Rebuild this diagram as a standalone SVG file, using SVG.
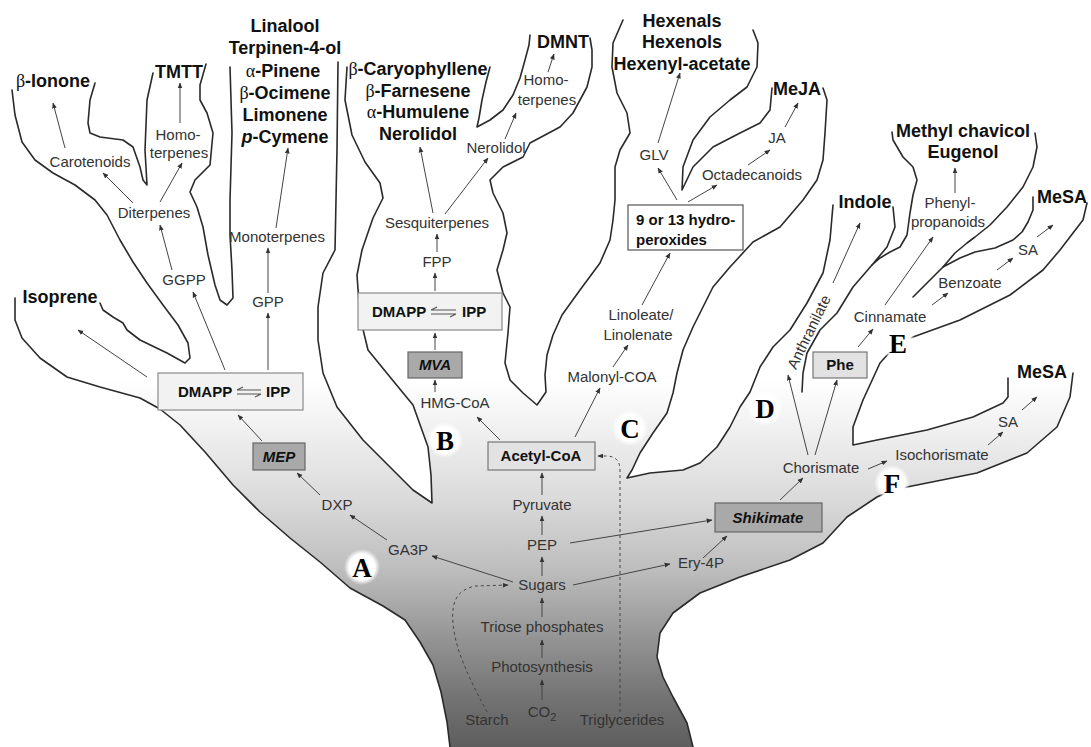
<svg xmlns="http://www.w3.org/2000/svg" width="1091" height="747" viewBox="0 0 1091 747">
<defs>
<linearGradient id="trunk" gradientUnits="userSpaceOnUse" x1="0" y1="380" x2="0" y2="747">
<stop offset="0" stop-color="#ffffff"/>
<stop offset="0.136" stop-color="#f0f0f0"/>
<stop offset="0.327" stop-color="#dadada"/>
<stop offset="0.518" stop-color="#bdbdbd"/>
<stop offset="0.708" stop-color="#939393"/>
<stop offset="0.872" stop-color="#727272"/>
<stop offset="1" stop-color="#5e5e5e"/>
</linearGradient>
<radialGradient id="halo">
<stop offset="0" stop-color="#fff"/>
<stop offset="0.72" stop-color="#fff"/>
<stop offset="1" stop-color="#fff" stop-opacity="0"/>
</radialGradient>
<marker id="ah" viewBox="0 0 10 10" refX="9" refY="5" markerWidth="6" markerHeight="6" markerUnits="userSpaceOnUse" orient="auto">
<path d="M0,1 L10,5 L0,9 z" fill="#333"/>
</marker>
<style>
.b{font:bold 18px "Liberation Sans",Arial,sans-serif;fill:#111;text-anchor:middle}
.s{font:15px "Liberation Sans",Arial,sans-serif;fill:#333;text-anchor:middle}
.bx{font:bold 15px "Liberation Sans",Arial,sans-serif;fill:#111}
.bi{font:italic bold 15px "Liberation Sans",Arial,sans-serif;fill:#111;text-anchor:middle}
.g{font-family:"Liberation Serif",serif;font-weight:normal}
.ol{fill:none;stroke:#2a2a2a;stroke-width:1.6;stroke-linejoin:round;stroke-linecap:round}
.ar{fill:none;stroke:#444;stroke-width:1;marker-end:url(#ah)}
.da{fill:none;stroke:#444;stroke-width:1;stroke-dasharray:3 3;marker-end:url(#ah)}
.lt{font:bold 27px "Liberation Serif","Times New Roman",serif;fill:#000;text-anchor:middle}
.lbox{fill:#f2f2f2;stroke:#8a8a8a;stroke-width:1.2}
.dbox{fill:#a9a9a9;stroke:#666;stroke-width:1.2}
.mbox{fill:#e2e2e2;stroke:#777;stroke-width:1.2}
.wbox{fill:#fff;stroke:#555;stroke-width:1.2}
.hp{fill:none;stroke:#555;stroke-width:1.2}
</style>
</defs>
<rect width="1091" height="747" fill="#fff"/>

<g id="tree">
<path fill="url(#trunk)" d="M450,747 L447,722 441,692 433,665 420,642 405,620 383,606 350,588 320,562 290,538 260,512 233,485 205,452 180,425 160,409 140,398 100,387 67,377 40,358 22,338 15,320 15,298 L100,303 103,310 113,317 123,323 127,330 140,340 167,353 185,363 190,358 188,343 178,325 163,305 147,283 133,262 120,240 107,215 95,200 75,185 53,173 35,160 22,142 15,115 12,90 L95,83 90,100 88,123 90,133 100,137 123,140 133,147 140,167 143,180 147,185 145,150 147,100 153,73 L206,64 200,85 200,100 207,113 213,133 210,165 195,180 190,192 197,207 203,227 208,255 215,285 220,300 227,305 233,298 232,270 230,235 230,200 232,133 230,67 L338,62 337,150 335,250 323,273 318,307 318,340 323,373 337,407 363,440 390,467 413,490 432,503 431,475 428,447 413,405 390,377 368,350 360,317 357,275 362,250 373,218 383,198 380,183 365,162 352,135 345,100 347,67 L490,67 486,82 482,100 479,118 477,127 490,120 503,110 513,95 520,78 525,60 529,45 530,35 L590,38 592,50 592,67 587,87 580,100 573,113 560,127 545,135 530,143 523,157 503,167 490,180 493,193 503,213 507,233 503,250 497,270 503,293 510,307 508,333 505,363 510,380 523,393 537,405 546,392 545,375 547,355 553,335 562,315 580,290 600,263 610,240 613,220 615,200 615,167 620,150 630,133 627,113 617,93 612,67 613,43 623,20 L753,30 758,43 757,67 747,87 730,100 710,117 693,140 683,167 682,190 693,167 713,147 740,133 760,123 770,110 772,88 L823,88 827,100 825,133 823,160 817,180 803,200 780,227 753,242 730,267 713,287 703,307 693,327 683,350 677,373 673,393 667,413 653,433 640,453 632,470 627,478 650,473 683,470 700,463 717,447 730,427 740,407 750,392 760,367 773,347 790,330 807,303 823,273 830,240 833,205 L893,207 895,227 887,247 872,265 880,258 890,252 900,247 907,235 910,213 913,195 917,180 913,167 903,157 893,140 892,132 L1035,133 1037,147 1033,167 1023,187 1007,207 990,225 975,237 967,243 955,253 943,267 960,258 975,252 995,248 1013,240 1022,232 1028,222 1033,210 1033,197 L1087,203 1083,220 1073,233 1060,250 1043,270 1010,295 960,320 913,337 898,345 890,352 880,363 863,400 853,427 853,445 877,440 927,430 973,417 1003,403 1008,397 1008,378 L1073,373 1070,397 1057,427 1027,453 977,473 907,487 892,490 877,497 847,517 823,543 790,560 740,577 700,593 673,613 660,633 657,657 663,677 673,697 687,723 693,747 Z"/>
<path class="ol" d="M450,747 L447,722 441,692 433,665 420,642 405,620 383,606 350,588 320,562 290,538 260,512 233,485 205,452 180,425 160,409 140,398 100,387 67,377 40,358 22,338 15,320 15,298"/>
<path class="ol" d="M100,303 L103,310 113,317 123,323 127,330 140,340 167,353 185,363 190,358 188,343 178,325 163,305 147,283 133,262 120,240 107,215 95,200 75,185 53,173 35,160 22,142 15,115 12,90"/>
<path class="ol" d="M95,83 L90,100 88,123 90,133 100,137 123,140 133,147 140,167 143,180 147,185 145,150 147,100 153,73"/>
<path class="ol" d="M206,64 L200,85 200,100 207,113 213,133 210,165 195,180 190,192 197,207 203,227 208,255 215,285 220,300 227,305 233,298 232,270 230,235 230,200 232,133 230,67"/>
<path class="ol" d="M338,62 L337,150 335,250 323,273 318,307 318,340 323,373 337,407 363,440 390,467 413,490 432,503 431,475 428,447 413,405 390,377 368,350 360,317 357,275 362,250 373,218 383,198 380,183 365,162 352,135 345,100 347,67"/>
<path class="ol" d="M490,67 L486,82 482,100 479,118 477,127 490,120 503,110 513,95 520,78 525,60 529,45 530,35"/>
<path class="ol" d="M590,38 L592,50 592,67 587,87 580,100 573,113 560,127 545,135 530,143 523,157 503,167 490,180 493,193 503,213 507,233 503,250 497,270 503,293 510,307 508,333 505,363 510,380 523,393 537,405 546,392 545,375 547,355 553,335 562,315 580,290 600,263 610,240 613,220 615,200 615,167 620,150 630,133 627,113 617,93 612,67 613,43 623,20"/>
<path class="ol" d="M753,30 L758,43 757,67 747,87 730,100 710,117 693,140 683,167 682,190 693,167 713,147 740,133 760,123 770,110 772,88"/>
<path class="ol" d="M823,88 L827,100 825,133 823,160 817,180 803,200 780,227 753,242 730,267 713,287 703,307 693,327 683,350 677,373 673,393 667,413 653,433 640,453 632,470 627,478 650,473 683,470 700,463 717,447 730,427 740,407 750,392 760,367 773,347 790,330 807,303 823,273 830,240 833,205"/>
<path class="ol" d="M893,207 L895,227 887,247 872,265 880,258 890,252 900,247 907,235 910,213 913,195 917,180 913,167 903,157 893,140 892,132"/>
<path class="ol" d="M872,265 L853,287 837,313 820,330 807,353 803,373 802,392"/>
<path class="ol" d="M1035,133 L1037,147 1033,167 1023,187 1007,207 990,225 975,237 967,243 955,253 943,267 960,258 975,252 995,248 1013,240 1022,232 1028,222 1033,210 1033,197"/>
<path class="ol" d="M943,267 L928,282 913,297"/>
<path class="ol" d="M1087,203 L1083,220 1073,233 1060,250 1043,270 1010,295 960,320 913,337 898,345 890,352 880,363 863,400 853,427 853,445 877,440 927,430 973,417 1003,403 1008,397 1008,378"/>
<path class="ol" d="M1073,373 L1070,397 1057,427 1027,453 977,473 907,487 892,490 877,497 847,517 823,543 790,560 740,577 700,593 673,613 660,633 657,657 663,677 673,697 687,723 693,747"/>
</g>

<g id="connectors">
<line class="ar" x1="65" y1="148" x2="53" y2="103"/>
<line class="ar" x1="180" y1="123" x2="180" y2="83"/>
<line class="ar" x1="133" y1="203" x2="103" y2="173"/>
<line class="ar" x1="160" y1="202" x2="182" y2="163"/>
<line class="ar" x1="172" y1="270" x2="160" y2="225"/>
<line class="ar" x1="225" y1="370" x2="193" y2="292"/>
<line class="ar" x1="147" y1="377" x2="78" y2="330"/>
<line class="ar" x1="268" y1="370" x2="268" y2="313"/>
<line class="ar" x1="268" y1="293" x2="268" y2="248"/>
<line class="ar" x1="276" y1="228" x2="288" y2="148"/>
<line class="ar" x1="262" y1="441" x2="238" y2="415"/>
<line class="ar" x1="320" y1="495" x2="297" y2="473"/>
<line class="ar" x1="387" y1="540" x2="350" y2="515"/>
<line class="ar" x1="513" y1="582" x2="432" y2="556"/>
<line class="ar" x1="573" y1="585" x2="670" y2="564"/>
<line class="ar" x1="570" y1="543" x2="712" y2="520"/>
<line class="ar" x1="703" y1="558" x2="727" y2="536"/>
<line class="ar" x1="780" y1="500" x2="803" y2="478"/>
<line class="ar" x1="868" y1="469" x2="887" y2="461"/>
<line class="ar" x1="988" y1="445" x2="1003" y2="432"/>
<line class="ar" x1="1022" y1="410" x2="1037" y2="397"/>
<line class="ar" x1="815" y1="455" x2="837" y2="380"/>
<line class="ar" x1="808" y1="455" x2="788" y2="375"/>
<line class="ar" x1="833" y1="283" x2="860" y2="223"/>
<line class="ar" x1="858" y1="347" x2="873" y2="329"/>
<line class="ar" x1="885" y1="305" x2="933" y2="237"/>
<line class="ar" x1="955" y1="193" x2="955" y2="168"/>
<line class="ar" x1="932" y1="305" x2="948" y2="293"/>
<line class="ar" x1="997" y1="270" x2="1013" y2="258"/>
<line class="ar" x1="1037" y1="237" x2="1053" y2="225"/>
<line class="ar" x1="542" y1="700" x2="542" y2="680"/>
<line class="ar" x1="542" y1="658" x2="542" y2="640"/>
<line class="ar" x1="542" y1="617" x2="542" y2="598"/>
<line class="ar" x1="542" y1="576" x2="542" y2="557"/>
<line class="ar" x1="542" y1="535" x2="542" y2="516"/>
<line class="ar" x1="542" y1="495" x2="542" y2="473"/>
<line class="ar" x1="500" y1="440" x2="477" y2="417"/>
<line class="ar" x1="435" y1="392" x2="435" y2="380"/>
<line class="ar" x1="435" y1="350" x2="435" y2="333"/>
<line class="ar" x1="435" y1="291" x2="435" y2="273"/>
<line class="ar" x1="437" y1="252" x2="437" y2="234"/>
<line class="ar" x1="433" y1="213" x2="420" y2="147"/>
<line class="ar" x1="445" y1="214" x2="488" y2="158"/>
<line class="ar" x1="505" y1="139" x2="516" y2="113"/>
<line class="ar" x1="548" y1="72" x2="554" y2="54"/>
<line class="ar" x1="575" y1="437" x2="600" y2="388"/>
<line class="ar" x1="613" y1="367" x2="628" y2="345"/>
<line class="ar" x1="642" y1="305" x2="670" y2="253"/>
<line class="ar" x1="677" y1="200" x2="658" y2="168"/>
<line class="ar" x1="658" y1="143" x2="680" y2="73"/>
<line class="ar" x1="688" y1="202" x2="717" y2="185"/>
<line class="ar" x1="748" y1="165" x2="770" y2="150"/>
<line class="ar" x1="785" y1="127" x2="798" y2="103"/>
<path class="da" d="M487,712 C470,680 455,650 453,623 C451,600 458,590 475,586 L508,585"/>
<path class="da" d="M620,712 L620,470 Q620,456 606,456 L598,456"/>
</g>

<g id="node-isoprene"><text class="b" x="60" y="303">Isoprene</text></g>
<g id="node-ionone"><text class="b" x="53" y="87"><tspan class="g">β</tspan>-Ionone</text></g>
<g id="node-tmtt"><text class="b" x="179" y="78">TMTT</text></g>
<g id="node-carotenoids"><text class="s" x="90" y="167">Carotenoids</text></g>
<g id="node-homoterpenes1"><text class="s" x="178" y="140">Homo-</text><text class="s" x="179" y="158">terpenes</text></g>
<g id="node-diterpenes"><text class="s" x="154" y="218">Diterpenes</text></g>
<g id="node-ggpp"><text class="s" x="184" y="285">GGPP</text></g>
<g id="node-monoterpene-products">
<text class="b" x="285" y="32">Linalool</text>
<text class="b" x="285" y="54">Terpinen-4-ol</text>
<text class="b" x="283" y="77"><tspan class="g">α</tspan>-Pinene</text>
<text class="b" x="285" y="99"><tspan class="g">β</tspan>-Ocimene</text>
<text class="b" x="285" y="121">Limonene</text>
<text class="b" x="285" y="143"><tspan font-style="italic">p</tspan>-Cymene</text>
</g>
<g id="node-monoterpenes"><text class="s" x="277" y="242">Monoterpenes</text></g>
<g id="node-gpp"><text class="s" x="268" y="307">GPP</text></g>
<g id="node-dmapp-left">
<rect class="lbox" x="158" y="373" width="145" height="37"/>
<text class="bx" x="178" y="397">DMAPP</text>
<path class="hp" d="M237,390 L261,390 M237,390 l6,-3 M237,394 L261,394 M261,394 l-6,3"/>
<text class="bx" x="266" y="397">IPP</text>
</g>
<g id="node-mep"><rect class="dbox" x="253" y="443" width="52" height="27"/><text class="bi" x="279" y="462">MEP</text></g>
<g id="node-dxp"><text class="s" x="337" y="510">DXP</text></g>
<g id="node-ga3p"><text class="s" x="408" y="555">GA3P</text></g>
<g id="node-sesqui-products">
<text class="b" x="418" y="75"><tspan class="g">β</tspan>-Caryophyllene</text>
<text class="b" x="418" y="97"><tspan class="g">β</tspan>-Farnesene</text>
<text class="b" x="418" y="118"><tspan class="g">α</tspan>-Humulene</text>
<text class="b" x="418" y="140">Nerolidol</text>
</g>
<g id="node-dmnt"><text class="b" x="563" y="48">DMNT</text></g>
<g id="node-homoterpenes2"><text class="s" x="546" y="85">Homo-</text><text class="s" x="547" y="105">terpenes</text></g>
<g id="node-nerolidol"><text class="s" x="496" y="153">Nerolidol</text></g>
<g id="node-sesquiterpenes"><text class="s" x="437" y="228">Sesquiterpenes</text></g>
<g id="node-fpp"><text class="s" x="437" y="267">FPP</text></g>
<g id="node-dmapp-right">
<rect class="lbox" x="358" y="293" width="144" height="37"/>
<text class="bx" x="372" y="317">DMAPP</text>
<path class="hp" d="M431,310 L456,310 M431,310 l6,-3 M431,314 L456,314 M456,314 l-6,3"/>
<text class="bx" x="462" y="317">IPP</text>
</g>
<g id="node-mva"><rect class="dbox" x="408" y="352" width="54" height="26"/><text class="bi" x="435" y="370">MVA</text></g>
<g id="node-hmgcoa"><text class="s" x="455" y="408">HMG-CoA</text></g>
<g id="node-acetylcoa"><rect class="mbox" x="488" y="442" width="107" height="28"/><text class="bx" x="541" y="461" text-anchor="middle">Acetyl-CoA</text></g>
<g id="node-pyruvate"><text class="s" x="542" y="510">Pyruvate</text></g>
<g id="node-pep"><text class="s" x="542" y="550">PEP</text></g>
<g id="node-sugars"><text class="s" x="542" y="590">Sugars</text></g>
<g id="node-triose"><text class="s" x="542" y="632">Triose phosphates</text></g>
<g id="node-photosynthesis"><text class="s" x="542" y="672">Photosynthesis</text></g>
<g id="node-co2"><text class="s" x="542" y="717">CO<tspan font-size="11" dy="4">2</tspan></text></g>
<g id="node-starch"><text class="s" x="487" y="725">Starch</text></g>
<g id="node-triglycerides"><text class="s" x="622" y="725">Triglycerides</text></g>
<g id="node-ery4p"><text class="s" x="701" y="568">Ery-4P</text></g>
<g id="node-shikimate"><rect class="dbox" x="715" y="503" width="107" height="29"/><text class="bi" x="768" y="523">Shikimate</text></g>
<g id="node-glv-products">
<text class="b" x="682" y="27">Hexenals</text>
<text class="b" x="682" y="48">Hexenols</text>
<text class="b" x="682" y="70">Hexenyl-acetate</text>
</g>
<g id="node-glv"><text class="s" x="654" y="160">GLV</text></g>
<g id="node-meja"><text class="b" x="797" y="95">MeJA</text></g>
<g id="node-ja"><text class="s" x="777" y="143">JA</text></g>
<g id="node-octadecanoids"><text class="s" x="752" y="180">Octadecanoids</text></g>
<g id="node-hydroperoxides">
<rect class="wbox" x="628" y="205" width="115" height="45"/>
<text class="bx" x="636" y="225">9 or 13 hydro-</text>
<text class="bx" x="636" y="245">peroxides</text>
</g>
<g id="node-linoleate"><text class="s" x="641" y="320">Linoleate/</text><text class="s" x="638" y="340">Linolenate</text></g>
<g id="node-malonyl"><text class="s" x="612" y="382">Malonyl-COA</text></g>
<g id="node-indole"><text class="b" x="865" y="208">Indole</text></g>
<g id="node-anthranilate"><text class="s" transform="translate(809,332) rotate(-64)" y="5">Anthranilate</text></g>
<g id="node-chorismate"><text class="s" x="821" y="473">Chorismate</text></g>
<g id="node-phe"><rect class="mbox" x="813" y="352" width="54" height="26"/><text class="bx" x="840" y="370" text-anchor="middle">Phe</text></g>
<g id="node-cinnamate"><text class="s" x="890" y="322">Cinnamate</text></g>
<g id="node-phenylpropanoids"><text class="s" x="950" y="208">Phenyl-</text><text class="s" x="948" y="227">propanoids</text></g>
<g id="node-phenylprop-products"><text class="b" x="963" y="137">Methyl chavicol</text><text class="b" x="963" y="158">Eugenol</text></g>
<g id="node-benzoate"><text class="s" x="970" y="288">Benzoate</text></g>
<g id="node-sa1"><text class="s" x="1028" y="255">SA</text></g>
<g id="node-mesa1"><text class="b" x="1062" y="203">MeSA</text></g>
<g id="node-isochorismate"><text class="s" x="942" y="460">Isochorismate</text></g>
<g id="node-sa2"><text class="s" x="1008" y="427">SA</text></g>
<g id="node-mesa2"><text class="b" x="1042" y="378">MeSA</text></g>

<g id="letters">
<circle cx="362" cy="567" r="18" fill="url(#halo)"/><text class="lt" x="362" y="577">A</text>
<circle cx="445" cy="440" r="18" fill="url(#halo)"/><text class="lt" x="445" y="450">B</text>
<circle cx="630" cy="428" r="18" fill="url(#halo)"/><text class="lt" x="630" y="438">C</text>
<circle cx="765" cy="408" r="18" fill="url(#halo)"/><text class="lt" x="765" y="418">D</text>
<circle cx="898" cy="343" r="18" fill="url(#halo)"/><text class="lt" x="898" y="353">E</text>
<circle cx="892" cy="483" r="18" fill="url(#halo)"/><text class="lt" x="892" y="493">F</text>
</g>
</svg>
